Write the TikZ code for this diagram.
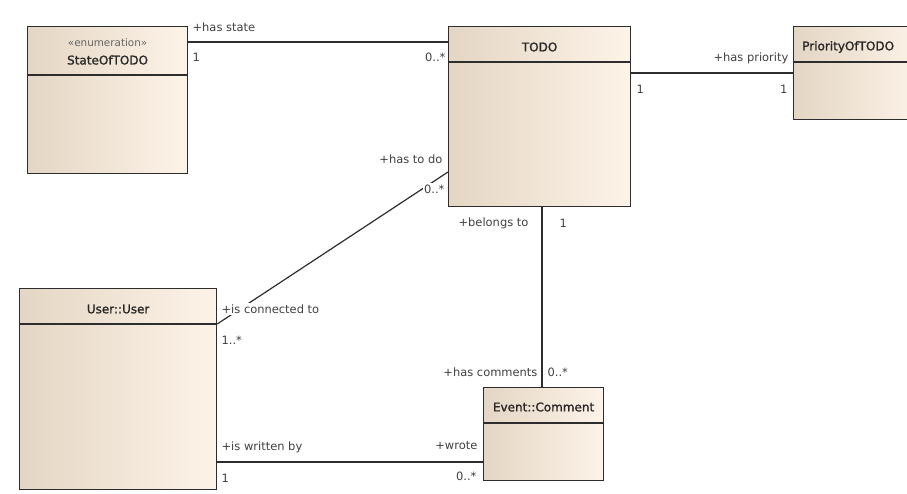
\documentclass[tikz,border=0pt]{standalone}
\usepackage{fontspec}
\setmainfont{DejaVu Sans}
\newfontfamily\titlefont{DejaVu Sans}[FakeBold=1.3]
\usetikzlibrary{calc}
\definecolor{tanL}{RGB}{228,214,196}
\definecolor{creamR}{RGB}{253,243,232}
\definecolor{edge}{RGB}{45,45,45}
\begin{document}
\begin{tikzpicture}[x=0.75pt,y=-0.75pt,
  cls/.style={draw=edge,line width=0.9pt,left color=tanL,right color=creamR,rectangle,inner sep=0pt,anchor=north west},
  title/.style={font=\titlefont\fontsize{9}{10}\selectfont,text=black!85,inner sep=0pt},
  stereo/.style={font=\fontsize{7.8}{9}\selectfont,text=black!60,inner sep=0pt},
  lab/.style={font=\fontsize{8.6}{10}\selectfont,text=black!75,inner sep=1pt,fill=white},
  conn/.style={draw=edge,line width=0.9pt},
  divider/.style={draw=edge,line width=0.9pt}]
\fill[white] (0,0) rectangle (907,493);
\useasboundingbox (0,0) rectangle (907,493);
\clip (0,0) rectangle (907,493);

% classes
\node[cls,minimum width={160*0.75pt},minimum height={147*0.75pt}] (state) at (27,26) {};
\node[cls,minimum width={182*0.75pt},minimum height={180*0.75pt}] (todo) at (448,26) {};
\node[cls,minimum width={130*0.75pt},minimum height={93*0.75pt}] (prio) at (793,26) {};
\node[cls,minimum width={197*0.75pt},minimum height={201*0.75pt}] (user) at (19,288) {};
\node[cls,minimum width={120*0.75pt},minimum height={93*0.75pt}] (comment) at (483,387) {};

% dividers
\draw[divider] (state.west |- 0,75) -- (state.east |- 0,75);
\draw[divider] (todo.west |- 0,62) -- (todo.east |- 0,62);
\draw[divider] (prio.west |- 0,62) -- (prio.east |- 0,62);
\draw[divider] (user.west |- 0,324) -- (user.east |- 0,324);
\draw[divider] (comment.west |- 0,423) -- (comment.east |- 0,423);

% titles
\node[stereo] (stst) at ($(state.north)+(0,17)$) {«enumeration»};
\node[title] (tstate) at ($(state.north)+(0,34)$) {StateOfTODO};
\node[title] (ttodo) at ($(todo.north)+(0,21)$) {TODO};
\node[title,anchor=west] (tprio) at ($(prio.north west)+(9,21)$) {PriorityOfTODO};
\node[title] (tuser) at ($(user.north)+(0,21)$) {User::User};
\node[title] (tcomment) at ($(comment.north)+(0,20)$) {Event::Comment};

% connectors
\draw[conn] (state.east |- 0,42) -- (todo.west |- 0,42);
\draw[conn] (todo.east |- 0,73) -- (prio.west |- 0,73);
\draw[conn] (todo.west |- 0,172) -- (user.east |- 0,324);
\draw[conn] (todo.south -| 542,0) -- (comment.north -| 542,0);
\draw[conn] (user.east |- 0,462) -- (comment.west |- 0,462);

% role and multiplicity labels
\node[lab,anchor=west] (l1) at (191,27) {+has state};
\node[lab,anchor=west] (l2) at (191,57) {1};
\node[lab,anchor=east] (l3) at (447,57) {0..*};
\node[lab,anchor=east] (l4) at (444,159) {+has to do};
\node[lab,anchor=east] (l5) at (446,189) {0..*};
\node[lab,anchor=east] (l6) at (790,58) {+has priority};
\node[lab,anchor=west] (l7) at (635,89) {1};
\node[lab,anchor=east] (l8) at (789,89) {1};
\node[lab,anchor=east] (l9) at (530,223) {+belongs to};
\node[lab,anchor=west] (l10) at (558,223) {1};
\node[lab,anchor=west] (l11) at (220,309) {+is connected to};
\node[lab,anchor=west] (l12) at (220,340) {1..*};
\node[lab,anchor=west] (l13) at (220,447) {+is written by};
\node[lab,anchor=west] (l14) at (220,478) {1};
\node[lab,anchor=east] (l15) at (539,372) {+has comments};
\node[lab,anchor=west] (l16) at (546,372) {0..*};
\node[lab,anchor=east] (l17) at (479,446) {+wrote};
\node[lab,anchor=east] (l18) at (478,476) {0..*};
\end{tikzpicture}
\end{document}
